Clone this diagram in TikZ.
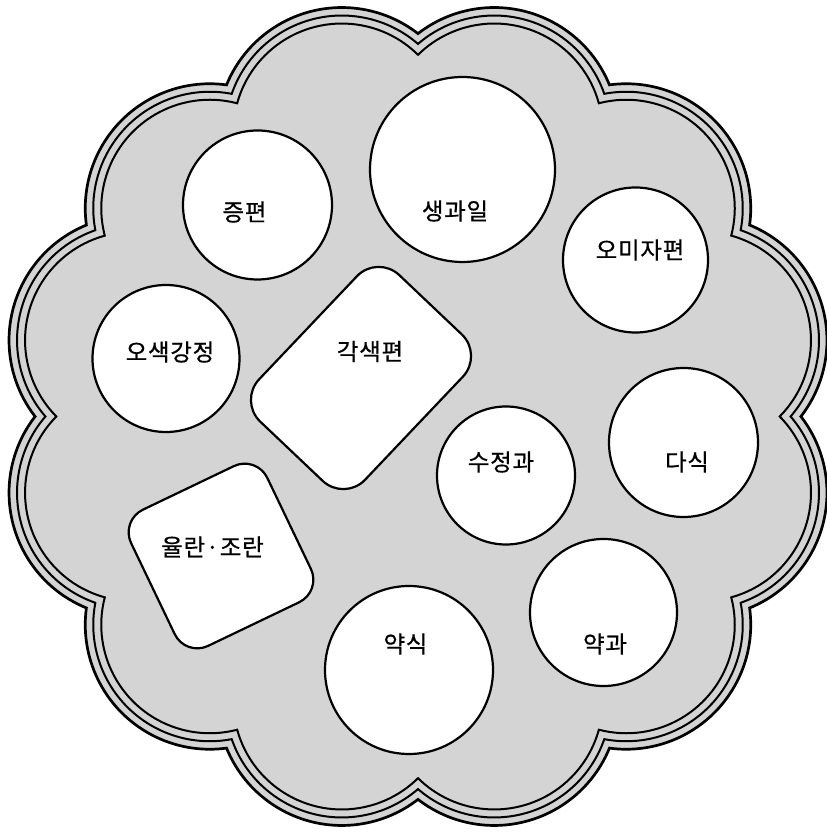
\documentclass[tikz,border=0pt]{standalone}
\usepackage{fontspec}
\newfontfamily\cjk[FakeBold=0.6,LetterSpace=3]{Noto Sans CJK KR}
\definecolor{tray}{gray}{0.83}
\tikzset{
  dish/.style={circle, draw=black, line width=2.2pt, fill=white, inner sep=0pt},
  cake/.style={rectangle, draw=black, line width=2.2pt, fill=white, inner sep=0pt},
  lbl/.style={font=\cjk\fontsize{23.5}{28}\selectfont, inner sep=0pt, anchor=center},
  rim/.style={draw=black},
}
\begin{document}
\begin{tikzpicture}[x=1pt,y=1pt]
\useasboundingbox (0,0) rectangle (827,833);
\coordinate (C) at (418,416.5);
% scalloped tray: 12 lobes, lobe centres at distance d, radius r
\pgfmathsetmacro\dd{2.945}
\pgfmathsetmacro\bb{\dd*sin(15)}
\foreach \rr/\lw/\fl in {1.245/2.7/tray, 1.165/2.0/none, 1.085/2.0/none}{
  \pgfmathsetmacro\ro{\dd*cos(15)+sqrt(\rr*\rr-\bb*\bb)}
  \pgfmathsetmacro\be{atan2(\ro*sin(15),\ro*cos(15)-\dd)}
  \pgfmathsetmacro\roPt{\ro*100}
  \pgfmathsetmacro\rrPt{\rr*100}
  \draw[rim, line width=\lw pt, fill=\fl] (C) ++(0:\roPt pt)
    \foreach \k [evaluate=\k as \sa using 15+30*\k-\be,
                 evaluate=\k as \ea using 15+30*\k+\be] in {0,...,11}{
      arc[start angle=\sa, end angle=\ea, radius=\rrPt pt]
    } -- cycle;
}
% dishes
\node[dish, minimum size=149pt] (jp)  at (257.5,628) {};
\node[dish, minimum size=185pt] (sg)  at (462.5,663.5) {};
\node[dish, minimum size=145pt] (om)  at (635.5,573) {};
\node[dish, minimum size=147pt] (os)  at (166,474.5) {};
\node[dish, minimum size=138pt] (sj)  at (506,357.5) {};
\node[dish, minimum size=149pt] (ds)  at (683.5,390.5) {};
\node[dish, minimum size=147pt] (yg)  at (603.5,220.5) {};
\node[dish, minimum size=168pt] (ys)  at (409,163) {};
\node[cake, rounded corners=30pt, minimum width=202pt, minimum height=146pt, rotate=46.5] (gs) at (361,455) {};
\node[cake, rounded corners=25pt, minimum width=151pt, minimum height=151pt, rotate=25.6] (yr) at (221,277) {};
% labels
\node[lbl] (tjp) at (244.5,621) {증편};
\node[lbl] (tsg) at (455,622) {생과일};
\node[lbl] (tom) at (640,583) {오미자편};
\node[lbl] (tos) at (170,481) {오색강정};
\node[lbl] (tsj) at (501,371) {수정과};
\node[lbl] (tds) at (687,371) {다식};
\node[lbl] (tyg) at (605,189) {약과};
\node[lbl] (tys) at (405.5,189) {약식};
\node[lbl] (tgs) at (370,481.5) {각색편};
\node[lbl] (tyr) at (212.5,286) {율란·조란};
\end{tikzpicture}
\end{document}
